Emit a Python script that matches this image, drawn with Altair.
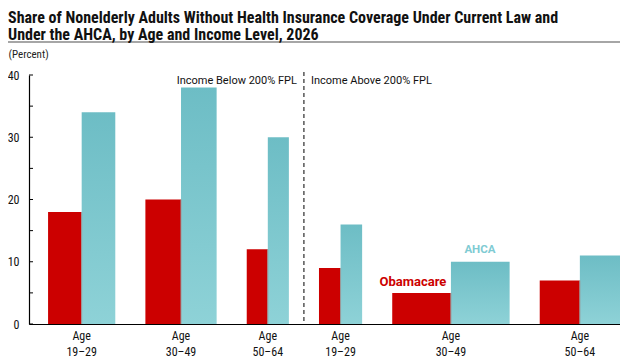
import altair as alt
import pandas as pd

# ---- data ----
age_labels = ["Age\n19–29", "Age\n30–49", "Age\n50–64", "Age\n19–29", "Age\n30–49", "Age\n50–64"]
income_level = ["Below", "Below", "Below", "Above", "Above", "Above"]
obamacare = [18, 20, 12, 9, 5, 7]
ahca = [34, 38, 30, 16, 10, 11]
group_width = [67, 71, 42, 43, 117, 80]   # relative population size of each group
y_ticks = [0, 5, 10, 15, 20, 25, 30, 35, 40]
title_lines = [
    "Share of Nonelderly Adults Without Health Insurance Coverage Under Current Law and",
    "Under the AHCA, by Age and Income Level, 2026",
]

LEAD = 19   # space before first group (x units)
GAP = 30    # space between groups (x units)

# build bar table
rows = []
pos = LEAD
for lab, inc, o, a, w in zip(age_labels, income_level, obamacare, ahca, group_width):
    rows.append(dict(label=lab, income=inc, start=pos, mid=pos + w / 2, end=pos + w,
                     obamacare=o, ahca=a))
    pos += w + GAP
df = pd.DataFrame(rows)
x_max = df["end"].max()
divider = (df.loc[2, "end"] + df.loc[3, "start"]) / 2
div_df = pd.DataFrame({"x": [divider]})
tick_df = pd.DataFrame({"v": y_ticks})

W, H = 591, 249
RED = "#CC0000"
TEAL_TOP = "#6DBDC5"
TEAL_BOT = "#8ED2D7"
NARROW = "Roboto Condensed, Liberation Sans Narrow, Roboto, sans-serif"
SANS = "Roboto, Liberation Sans, Arial, sans-serif"

xs = alt.Scale(domain=[0, x_max], nice=False, zero=True)
ys = alt.Scale(domain=[0, 40], nice=False)

base = alt.Chart(df)

red = base.mark_bar(color=RED).encode(
    x=alt.X("start:Q", scale=xs, axis=alt.Axis(labels=False, ticks=False, grid=False,
                                                domainColor="#000", domainWidth=1.2, title=None)),
    x2="mid:Q",
    y=alt.Y("obamacare:Q", scale=ys,
            axis=alt.Axis(values=[0, 10, 20, 30, 40], grid=False, tickSize=0, labelPadding=10,
                          domainColor="#000", domainWidth=1.2, labelFont=NARROW, labelFontSize=12,
                          labelColor="#111", title="(Percent)", titleAngle=0, titleAlign="left",
                          titleBaseline="alphabetic", titleX=-21, titleY=-18, titleFont=NARROW,
                          titleFontSize=11, titleFontWeight="normal", titleColor="#222")),
    y2=alt.datum(0),
)

teal = base.mark_bar(
    color=alt.Gradient(gradient="linear", x1=0, y1=0, x2=0, y2=1,
                       stops=[alt.GradientStop(color=TEAL_TOP, offset=0),
                              alt.GradientStop(color=TEAL_BOT, offset=1)])
).encode(x=alt.X("mid:Q", scale=xs), x2="end:Q",
         y=alt.Y("ahca:Q", scale=ys), y2=alt.datum(0))

sep = base.mark_rule(color="#9a9a9a", strokeWidth=1).encode(
    x=alt.X("mid:Q", scale=xs), y=alt.Y("obamacare:Q", scale=ys), y2=alt.datum(0))

yticks = alt.Chart(tick_df).mark_rule(color="#000", strokeWidth=1).encode(
    y=alt.Y("v:Q", scale=ys), x=alt.value(0), x2=alt.value(4))

xlabels = base.mark_text(baseline="top", align="center", lineBreak="\n", lineHeight=16,
                         font=NARROW, fontSize=12, color="#111").encode(
    x=alt.X("mid:Q", scale=xs), y=alt.value(H + 7), text="label:N")

divline = alt.Chart(div_df).mark_rule(color="#000", strokeDash=[4, 3], strokeWidth=1).encode(
    x=alt.X("x:Q", scale=xs), y=alt.value(-3), y2=alt.value(H))

inc_below = alt.Chart(div_df).mark_text(align="right", baseline="alphabetic", dx=-7,
                                        font=SANS, fontSize=11, color="#111").encode(
    x=alt.X("x:Q", scale=xs), y=alt.value(9), text=alt.value("Income Below 200% FPL"))
inc_above = alt.Chart(div_df).mark_text(align="left", baseline="alphabetic", dx=7,
                                        font=SANS, fontSize=11, color="#111").encode(
    x=alt.X("x:Q", scale=xs), y=alt.value(9), text=alt.value("Income Above 200% FPL"))

lab_df = df.iloc[[4]]
oba_lab = alt.Chart(lab_df).mark_text(align="center", baseline="alphabetic", dx=-38, dy=-7,
                                       font=SANS, fontSize=13, fontWeight="bold", color=RED).encode(
    x=alt.X("mid:Q", scale=xs), y=alt.Y("obamacare:Q", scale=ys), text=alt.value("Obamacare"))
ahca_lab = alt.Chart(lab_df).mark_text(align="center", baseline="alphabetic", dx=29, dy=-9,
                                        font=SANS, fontSize=11.5, fontWeight="bold", color="#7FCBD3").encode(
    x=alt.X("mid:Q", scale=xs), y=alt.Y("ahca:Q", scale=ys), text=alt.value("AHCA"))

title_rule = alt.Chart(div_df).mark_rule(color="#888", strokeWidth=1.5).encode(
    x=alt.value(-21), x2=alt.value(W), y=alt.value(-33))

chart = alt.layer(
    red, teal, sep, yticks, xlabels, divline, inc_below, inc_above, oba_lab, ahca_lab, title_rule
).properties(
    width=W, height=H,
    autosize=alt.AutoSizeParams(type="none"),
    padding={"left": 21, "top": 67, "right": 0, "bottom": 40},
    title=alt.TitleParams(text=title_lines, anchor="start", frame="group", dx=-21, offset=2, dy=4,
                          font=NARROW, fontSize=16, fontWeight="bold", color="#111", lineHeight=17.5),
).configure_view(stroke=None)

chart.save("out.html", embed_options={"renderer": "svg", "actions": False})
